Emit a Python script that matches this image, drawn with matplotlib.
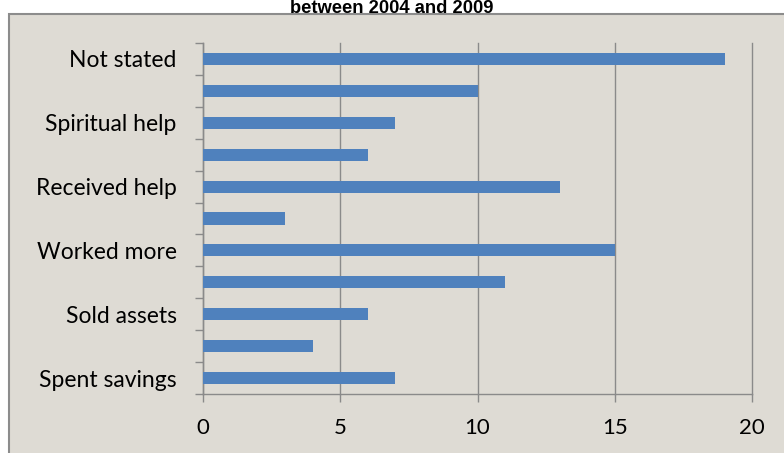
import matplotlib
matplotlib.use("Agg")
import matplotlib.pyplot as plt
from matplotlib.patches import Rectangle

# categories bottom to top (only every other one is labelled in the original)
categories = ["Spent savings", "", "Sold assets", "", "Worked more", "",
              "Received help", "", "Spiritual help", "", "Not stated"]
values = [7, 4, 6, 11, 15, 3, 13, 6, 7, 10, 19]
x_ticks = [0, 5, 10, 15, 20]

bg = "#DEDBD4"
grid_c = "#8A8A8A"

fig = plt.figure(figsize=(7.84, 4.53), dpi=100)
fig.patch.set_facecolor("white")

# chart area frame (runs off the right and bottom edge)
fig.patches.append(Rectangle((9 / 784, -0.05), 1.0, 1 - 14 / 453 + 0.05,
                             transform=fig.transFigure, facecolor=bg,
                             edgecolor="#8C8C8C", linewidth=1.5, zorder=-5))

fig.text(0.5, 1 - 13 / 453, "between 2004 and 2009", ha="center", va="baseline",
         fontsize=13.2, fontweight="bold", family="Liberation Sans")

ax = fig.add_axes([203 / 784, 1 - 394 / 453, (752 - 203) / 784, (394 - 43) / 453])
ax.set_facecolor("none")

pos = list(range(len(values)))
ax.barh(pos, values, height=0.38, color="#4F81BD", zorder=3)

ax.set_xlim(0, 20)
ax.set_ylim(-0.5, len(values) - 0.5)
ax.set_xticks(x_ticks)
ax.set_xticklabels([str(t) for t in x_ticks], family="Lato", fontsize=16)
ax.set_yticks(pos)
ax.set_yticklabels(categories, family="Lato", fontsize=16.5)
ax.set_yticks([p - 0.5 for p in pos] + [len(values) - 0.5], minor=True)

ax.tick_params(axis="y", which="major", length=0, pad=19)
ax.tick_params(axis="y", which="minor", length=6, color=grid_c, width=1)
ax.tick_params(axis="x", length=6, color=grid_c, width=1, pad=11)

ax.grid(axis="x", color=grid_c, linewidth=1, zorder=0)
for gl in ax.get_xgridlines():
    gl.set_clip_on(False)
ax.set_axisbelow(True)
for s in ["top", "right"]:
    ax.spines[s].set_visible(False)
for s in ["left", "bottom"]:
    ax.spines[s].set_color(grid_c)
    ax.spines[s].set_linewidth(1)

fig.savefig("out.png", dpi=100)
